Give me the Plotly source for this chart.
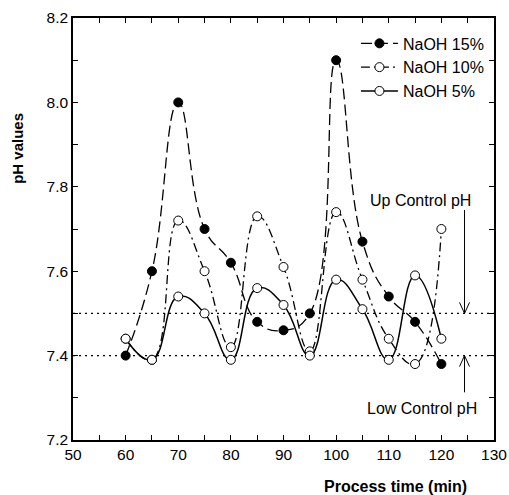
import plotly.graph_objects as go

# ---- data ----
time_min = [60, 65, 70, 75, 80, 85, 90, 95, 100, 105, 110, 115, 120]
naoh_15 = [7.40, 7.60, 8.00, 7.70, 7.62, 7.48, 7.46, 7.50, 8.10, 7.67, 7.54, 7.48, 7.38]
naoh_10 = [7.44, 7.39, 7.72, 7.60, 7.42, 7.73, 7.61, 7.41, 7.74, 7.58, 7.44, 7.38, 7.70]
naoh_5 = [7.44, 7.39, 7.54, 7.50, 7.39, 7.56, 7.52, 7.40, 7.58, 7.51, 7.39, 7.59, 7.44]

UP_CONTROL = 7.5
LOW_CONTROL = 7.4
x_ticks = [50, 60, 70, 80, 90, 100, 110, 120, 130]
y_ticks = [7.2, 7.4, 7.6, 7.8, 8.0, 8.2]

FONT = "Liberation Sans, Arial, sans-serif"

fig = go.Figure()

fig.add_trace(go.Scatter(
    x=time_min, y=naoh_15, name="NaOH 15%", mode="lines+markers", legendgroup="a",
    line=dict(color="black", width=1.3, shape="spline", smoothing=1.3, dash="11px,5px"),
    marker=dict(symbol="circle", size=9, color="black", line=dict(color="black", width=1)),
))
fig.add_trace(go.Scatter(
    x=time_min, y=naoh_10, name="NaOH 10%", mode="lines+markers", legendgroup="b",
    line=dict(color="black", width=1.3, shape="spline", smoothing=1.3, dash="9px,4px,2px,4px"),
    marker=dict(symbol="circle", size=9, color="white", line=dict(color="black", width=1)),
))
fig.add_trace(go.Scatter(
    x=time_min, y=naoh_5, name="NaOH 5%", mode="lines+markers", legendgroup="c",
    line=dict(color="black", width=1.5, shape="spline", smoothing=1.3),
    marker=dict(symbol="circle", size=9, color="white", line=dict(color="black", width=1)),
))

# control lines
for yv in (UP_CONTROL, LOW_CONTROL):
    fig.add_shape(type="line", xref="paper", yref="y", x0=0, x1=1, y0=yv, y1=yv,
                  line=dict(color="black", width=1.3, dash="2px,4px"), layer="below")

arrow_x = 124.4
# Up arrow (pointing down to UP_CONTROL)
fig.add_shape(type="line", xref="x", yref="y", x0=arrow_x, x1=arrow_x,
              y0=UP_CONTROL + 0.245, y1=UP_CONTROL, line=dict(color="black", width=1))
fig.add_shape(type="path", xref="x", yref="y",
              path=f"M {arrow_x-0.95},{UP_CONTROL+0.026} L {arrow_x},{UP_CONTROL} L {arrow_x+0.95},{UP_CONTROL+0.026}",
              line=dict(color="black", width=1))
# Low arrow (pointing up to LOW_CONTROL)
fig.add_shape(type="line", xref="x", yref="y", x0=arrow_x, x1=arrow_x,
              y0=LOW_CONTROL - 0.087, y1=LOW_CONTROL, line=dict(color="black", width=1))
fig.add_shape(type="path", xref="x", yref="y",
              path=f"M {arrow_x-0.95},{LOW_CONTROL-0.026} L {arrow_x},{LOW_CONTROL} L {arrow_x+0.95},{LOW_CONTROL-0.026}",
              line=dict(color="black", width=1))

fig.add_annotation(x=116.0, y=7.767, xref="x", yref="y", text="Up Control pH",
                   showarrow=False, xanchor="center", yanchor="middle",
                   font=dict(family=FONT, size=16, color="black"))
fig.add_annotation(x=116.3, y=7.274, xref="x", yref="y", text="Low Control pH",
                   showarrow=False, xanchor="center", yanchor="middle",
                   font=dict(family=FONT, size=16, color="black"))

# axis titles (placed as in the reference)
fig.add_annotation(x=0.767, y=0, xref="paper", yref="paper", yshift=-46,
                   text="<b>Process time (min)</b>", showarrow=False,
                   xanchor="center", yanchor="middle",
                   font=dict(family=FONT, size=16, color="black"))
fig.add_annotation(x=0, y=7.89, xref="paper", yref="y", xshift=-55,
                   text="<b>pH values</b>", showarrow=False, textangle=-90,
                   xanchor="center", yanchor="middle",
                   font=dict(family=FONT, size=15, color="black"))

axis_common = dict(
    showline=True, linecolor="black", linewidth=1.5, mirror="allticks",
    ticks="inside", ticklen=5, tickwidth=1, tickcolor="black",
    showgrid=False, zeroline=False, automargin=False,
    tickfont=dict(family=FONT, size=15.5, color="black"),
)

fig.update_xaxes(
    range=[50, 130], tickmode="array", tickvals=x_ticks,
    minor=dict(dtick=5, tick0=50, ticks="inside", ticklen=5, tickcolor="black", showgrid=False),
    **axis_common,
)
fig.update_yaxes(
    range=[7.2, 8.2], tickmode="array", tickvals=y_ticks, tickformat=".1f",
    minor=dict(dtick=0.1, tick0=7.2, ticks="inside", ticklen=5, tickcolor="black", showgrid=False),
    **axis_common,
)

fig.update_layout(
    width=509, height=495,
    margin=dict(l=73, r=15, t=18, b=55, autoexpand=False),
    plot_bgcolor="white", paper_bgcolor="white",
    font=dict(family=FONT, color="black"),
    showlegend=True,
    legend=dict(x=0.988, y=0.98, xanchor="right", yanchor="top",
                bgcolor="rgba(0,0,0,0)", font=dict(family=FONT, size=16, color="black"),
                traceorder="normal", tracegroupgap=3, itemwidth=37),
)

fig.write_html("out.html",
               config={"displayModeBar": False},
               post_script="document.body.style.margin='0';document.body.style.overflow='hidden';")
